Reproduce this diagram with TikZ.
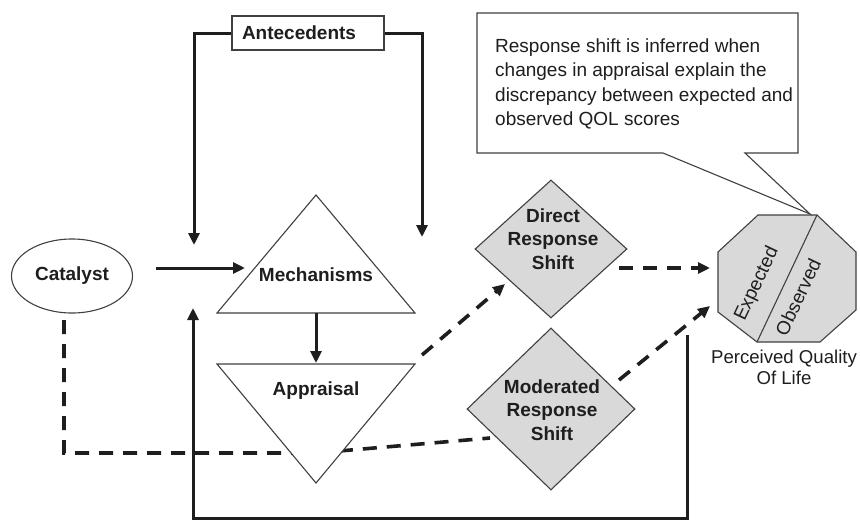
\documentclass[tikz,border=0pt]{standalone}
\usepackage{fontspec}
\setmainfont{Liberation Sans}
\usetikzlibrary{arrows.meta,shapes.geometric}
\definecolor{shapegray}{HTML}{D9D9D9}
\definecolor{ink}{HTML}{1E1E1E}
\tikzset{
  lbl/.style={font=\fontsize{19}{23.5}\selectfont\bfseries, text=ink, inner sep=0pt},
  plain/.style={font=\fontsize{19}{24.4}\selectfont, text=ink, inner sep=0pt},
  outline/.style={draw=ink!85, line width=1.1pt},
  conn/.style={draw=ink, line width=3pt},
  dconn/.style={draw=ink, line width=3.6pt, dash pattern=on 14pt off 10pt},
  tip/.style={-{Triangle[length=12pt,width=11pt]}},
}
\begin{document}
\begin{tikzpicture}[x=1pt,y=-1pt]
\useasboundingbox (0,0) rectangle (860,520);

% coordinates
\coordinate (mA) at (316,195);
\coordinate (mL) at (217,313);
\coordinate (mR) at (415,313);
\coordinate (mB) at (316,313);
\coordinate (aL) at (217,364);
\coordinate (aR) at (415,364);
\coordinate (aB) at (316,483);
\coordinate (aT) at (316,363);
\coordinate (lb) at (194,245);
\coordinate (rb) at (422,237);
\coordinate (c1) at (156,268);
\coordinate (c2) at (245,268);
\coordinate (fb1) at (687,335);
\coordinate (fbR) at (687,518);
\coordinate (fbL) at (193,518);
\coordinate (fb2) at (193,308);
\coordinate (cs) at (64,320);
\coordinate (cb) at (64,453);
\coordinate (ck) at (316,453);
\coordinate (md) at (490,438);
\coordinate (ad1) at (422,355);
\coordinate (ad2) at (505,284);
\coordinate (dq1) at (619,268);
\coordinate (dq2) at (710,268);
\coordinate (mq1) at (619,380);
\coordinate (mq2) at (710,306);

% Antecedents
\node[lbl, outline, fill=white, minimum width=152pt, minimum height=34pt,
      text width=132pt, align=left, inner xsep=10pt] (ante) at (308,33) {Antecedents};
\draw[conn, tip] (ante.west) -| (lb);
\draw[conn, tip] (ante.east) -| (rb);

% Catalyst
\node[lbl, outline, ellipse, minimum width=121pt, minimum height=74pt] (cat) at (72,276) {Catalyst};
\draw[conn, tip] (c1) -- (c2);

% feedback loop
\draw[conn, tip] (fb1) -- (fbR) -- (fbL) -- (fb2);

% dashed catalyst line (behind appraisal)
\draw[dconn] (cs) -- (cb) -- (ck) -- (md);

% Mechanisms triangle
\draw[outline, fill=white] (mA) -- (mL) -- (mR) -- cycle;
\node[lbl] (mech) at (316,275) {Mechanisms};
\draw[conn, tip] (mB) -- (aT);

% Appraisal triangle
\draw[outline, fill=white] (aL) -- (aR) -- (aB) -- cycle;
\node[lbl] (appr) at (316,391) {Appraisal};

% Diamonds
\node[diamond, outline, fill=shapegray, minimum width=152pt, minimum height=138pt, inner sep=0pt] (dir) at (551,249) {};
\node[lbl, align=center] (dirt) at (553,239) {Direct\\Response\\Shift};
\node[diamond, outline, fill=shapegray, minimum width=168pt, minimum height=162pt, inner sep=0pt] (mod) at (551,409) {};
\node[lbl, align=center] (modt) at (552,410) {Moderated\\Response\\Shift};

\draw[dconn, tip] (ad1) -- (ad2);
\draw[dconn, tip] (dq1) -- (dq2);
\draw[dconn, tip] (mq1) -- (mq2);

% QOL octagon
\coordinate (o1) at (758,215);
\coordinate (o2) at (817,215);
\coordinate (o3) at (856,252);
\coordinate (o4) at (856,310);
\coordinate (o5) at (820,342);
\coordinate (o6) at (757,342);
\coordinate (o7) at (718,312);
\coordinate (o8) at (718,252);
\draw[outline, fill=shapegray] (o1) -- (o2) -- (o3) -- (o4) -- (o5) -- (o6) -- (o7) -- (o8) -- cycle;
\draw[outline] (o2) -- (o6);
\node[plain, rotate=64.7] (exp) at (757,284) {Expected};
\node[plain, rotate=64.7] (obs) at (798,297) {Observed};
\node[plain, align=center, font=\fontsize{18.6}{21}\selectfont] (qol) at (784,367) {Perceived Quality\\Of Life};

% Callout
\coordinate (k1) at (477,13);
\coordinate (k2) at (798,13);
\coordinate (k3) at (798,153);
\coordinate (k4) at (745,153);
\coordinate (ktip) at (810,214);
\coordinate (k5) at (663,153);
\coordinate (k6) at (477,153);
\draw[outline, fill=white] (k1) -- (k2) -- (k3) -- (k4) -- (ktip) -- (k5) -- (k6) -- cycle;
\node[plain, anchor=west, align=left] (note) at (495,84)
  {Response shift is inferred when\\changes in appraisal explain the\\discrepancy between expected and\\observed QOL scores};
\end{tikzpicture}
\end{document}
